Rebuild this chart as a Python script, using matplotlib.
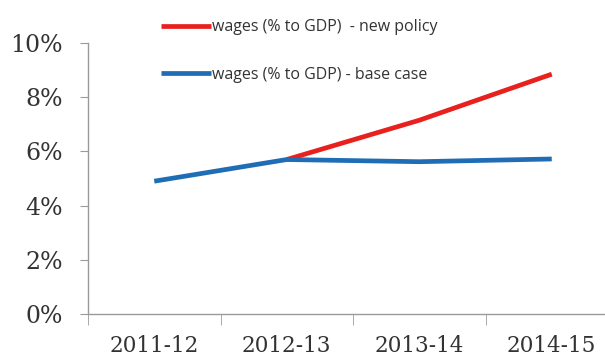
import numpy as np
import matplotlib
matplotlib.use("Agg")
import matplotlib.pyplot as plt
from matplotlib.ticker import FuncFormatter

# Data
years = ["2011-12", "2012-13", "2013-14", "2014-15"]
new_policy = [np.nan, 5.7, 7.15, 8.85]
base_case = [4.9, 5.7, 5.62, 5.72]

x = np.arange(len(years))

fig = plt.figure(figsize=(6.05, 3.59), dpi=100)
ax = fig.add_axes([88/605, 45/359, 530/605, 271/359])

ax.plot(x, new_policy, color="#e8201e", lw=3.4, solid_capstyle="butt",
        label="wages (% to GDP)  - new policy")
ax.plot(x, base_case, color="#1f6db5", lw=3.4, solid_capstyle="butt",
        label="wages (% to GDP) - base case")

ax.set_xlim(-0.5, 3.5)
ax.set_ylim(0, 10)
ax.set_yticks([0, 2, 4, 6, 8, 10])
ax.yaxis.set_major_formatter(FuncFormatter(lambda v, p: f"{v:.0f}%"))
ax.set_xticks(x)
ax.set_xticklabels(years)
ax.set_xticks(np.arange(-0.5, 4, 1), minor=True)

for s in ["top", "right"]:
    ax.spines[s].set_visible(False)
for s in ["left", "bottom"]:
    ax.spines[s].set_color("#9a9a9a")
    ax.spines[s].set_linewidth(1)

ax.tick_params(axis="y", length=6, color="#9a9a9a", labelsize=17, pad=12,
               labelcolor="#333333")
ax.tick_params(axis="x", which="major", length=0, labelsize=15.5, pad=15,
               labelcolor="#333333")
ax.tick_params(axis="x", which="minor", length=8, color="#9a9a9a")
for lbl in ax.get_xticklabels() + ax.get_yticklabels():
    lbl.set_family("DejaVu Serif")

leg = fig.legend(loc="upper left", bbox_to_anchor=(147/605, 1 - 5/359),
                 frameon=False, handlelength=3.1,
                 handletextpad=0.05, labelspacing=1.95,
                 prop={"family": "Open Sans", "size": 11.5})
for t in leg.get_texts():
    t.set_color("#333333")

fig.savefig("out.png", dpi=100)
